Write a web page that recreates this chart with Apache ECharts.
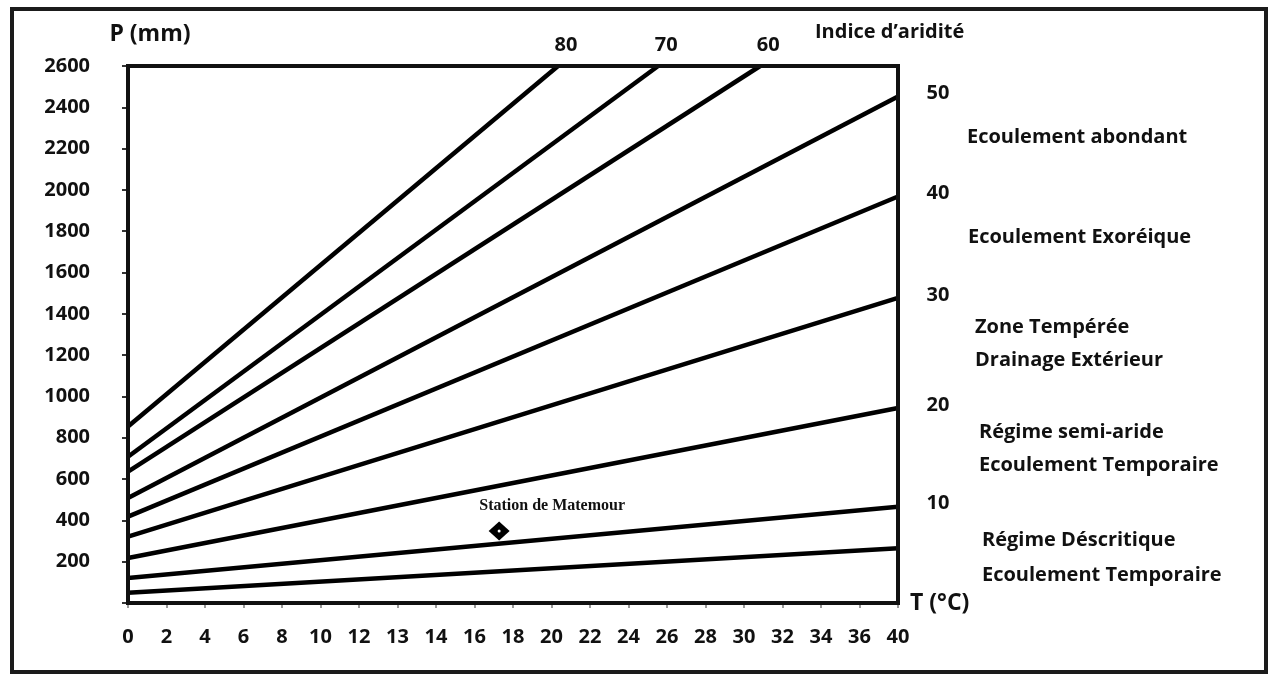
<!DOCTYPE html>
<html>
<head>
<meta charset="utf-8">
<script src="https://cdn.jsdelivr.net/npm/echarts@6/dist/echarts.min.js"></script>
<style>
  html, body { margin: 0; padding: 0; background: #fff; }
  #chart { width: 1269px; height: 675px; }
</style>
</head>
<body>
<div id="chart"></div>
<script>
// T axis tick labels (°C); the axis runs on tick index 0..20
const tLabels = ['0', '2', '4', '6', '8', '10', '12', '13', '14', '16', '18', '20', '22', '24', '26', '28', '30', '32', '34', '36', '40']

// aridity index lines
const aridity = [80, 70, 60, 50, 40, 30, 20, 10, 5]
const pStart = [855, 708, 636, 508, 418, 321, 218, 121, 50]   // P (mm) on the P axis
const tEnd = [11.17, 13.77, 16.42, 20, 20, 20, 20, 20, 20]   // tick index where line stops
const pEnd = [2600, 2600, 2600, 2452, 1968, 1477, 944, 466, 265]

// station
const stationName = 'Station de Matemour'
const stationT = [9.64]
const stationP = [349]

// zone descriptions on the right
const zoneLabels = [
  'Ecoulement abondant',
  'Ecoulement Exoréique',
  'Zone Tempérée',
  'Drainage Extérieur',
  'Régime semi-aride',
  'Ecoulement Temporaire',
  'Régime Déscritique',
  'Ecoulement Temporaire',
]

const INK = '#111'
const FONT = '"Open Sans", sans-serif'

const chart = echarts.init(document.getElementById('chart'))

const lineSeries = aridity.map((idx, i) => {
  const exitsTop = pEnd[i] >= 2600
  const endLabel = idx === 5 ? { show: false } : exitsTop
    ? { show: true, position: 'top', distance: 10, offset: [8, 0] }
    : { show: true, position: 'right', distance: 28, offset: [0, -3] }
  return {
    type: 'line',
    name: String(idx),
    data: [[0, pStart[i]], { value: [tEnd[i], pEnd[i]], label: endLabel }],
    symbol: 'circle',
    symbolSize: 1,
    showSymbol: true,
    lineStyle: { color: '#000', width: 4.5 },
    itemStyle: { color: '#000' },
    label: {
      show: false,
      formatter: '{a}',
      color: INK,
      fontFamily: FONT,
      fontWeight: 'bold',
      fontSize: 20,
    },
    z: 3,
  }
})

// positions of the zone texts (left x, middle y)
const zonePos = [[967, 137], [968, 237], [975, 327], [975, 360], [979, 432], [979, 465], [982, 540], [982, 575]]

const option = {
  animation: false,
  backgroundColor: '#fff',
  grid: {
    left: 128,
    right: 371,
    top: 66,
    bottom: 72,
    containLabel: false,
    outerBoundsMode: 'none',
    show: true,
    borderColor: INK,
    borderWidth: 4,
    backgroundColor: 'transparent',
    z: 4,
  },
  xAxis: {
    type: 'value',
    min: 0,
    max: 20,
    interval: 1,
    name: 'T (°C)',
    nameLocation: 'end',
    nameGap: 12,
    nameTextStyle: {
      color: INK, fontFamily: FONT, fontWeight: 'bold', fontSize: 23,
      verticalAlign: 'middle', padding: [10, 0, 0, 0],
    },
    axisLine: { show: true, lineStyle: { color: INK, width: 4 } },
    axisTick: { show: true, length: 5, lineStyle: { color: '#777', width: 1.5 } },
    splitLine: { show: false },
    axisLabel: {
      margin: 24,
      color: INK,
      fontFamily: FONT,
      fontWeight: 'bold',
      fontSize: 20,
      formatter: (v) => tLabels[Math.round(v)],
    },
  },
  yAxis: {
    type: 'value',
    min: 0,
    max: 2600,
    interval: 200,
    name: 'P (mm)',
    nameLocation: 'end',
    nameGap: 20,
    nameTextStyle: {
      color: INK, fontFamily: FONT, fontWeight: 'bold', fontSize: 23,
      align: 'center', padding: [0, 0, 0, 44],
    },
    axisLine: { show: true, lineStyle: { color: INK, width: 4 } },
    axisTick: { show: true, length: 6, lineStyle: { color: '#333', width: 2 } },
    splitLine: { show: false },
    axisLabel: {
      margin: 38,
      color: INK,
      fontFamily: FONT,
      fontWeight: 'bold',
      fontSize: 20,
      formatter: (v) => (v === 0 ? '' : String(v)),
    },
  },
  series: [
    ...lineSeries,
    {
      type: 'scatter',
      name: stationName,
      data: stationT.map((t, i) => [t, stationP[i]]),
      symbol: 'diamond',
      symbolSize: [21, 19],
      itemStyle: { color: '#000', opacity: 1 },
      label: {
        show: true,
        formatter: stationName,
        position: 'top',
        distance: 8,
        offset: [53, 0],
        color: '#111',
        fontFamily: '"Liberation Serif", "DejaVu Serif", serif',
        fontWeight: 'bold',
        fontSize: 16,
      },
      z: 5,
    },
    {
      type: 'scatter',
      data: stationT.map((t, i) => [t, stationP[i]]),
      symbol: 'circle',
      symbolSize: 3,
      itemStyle: { color: '#fff', opacity: 1 },
      silent: true,
      z: 6,
    },
  ],
  graphic: [
    {
      type: 'rect',
      shape: { x: 12, y: 9, width: 1254, height: 663 },
      style: { fill: 'none', stroke: '#1b1b1b', lineWidth: 4 },
      z: 10,
    },
    {
      type: 'text',
      x: 815,
      y: 32,
      style: {
        text: 'Indice d\u2019aridité',
        fill: INK,
        font: 'bold 20px ' + FONT,
        align: 'left',
        verticalAlign: 'middle',
      },
    },
    ...zoneLabels.map((t, i) => ({
      type: 'text',
      x: zonePos[i][0],
      y: zonePos[i][1],
      style: {
        text: t,
        fill: INK,
        font: 'bold 20px ' + FONT,
        align: 'left',
        verticalAlign: 'middle',
      },
    })),
  ],
}

chart.setOption(option)
</script>
</body>
</html>
